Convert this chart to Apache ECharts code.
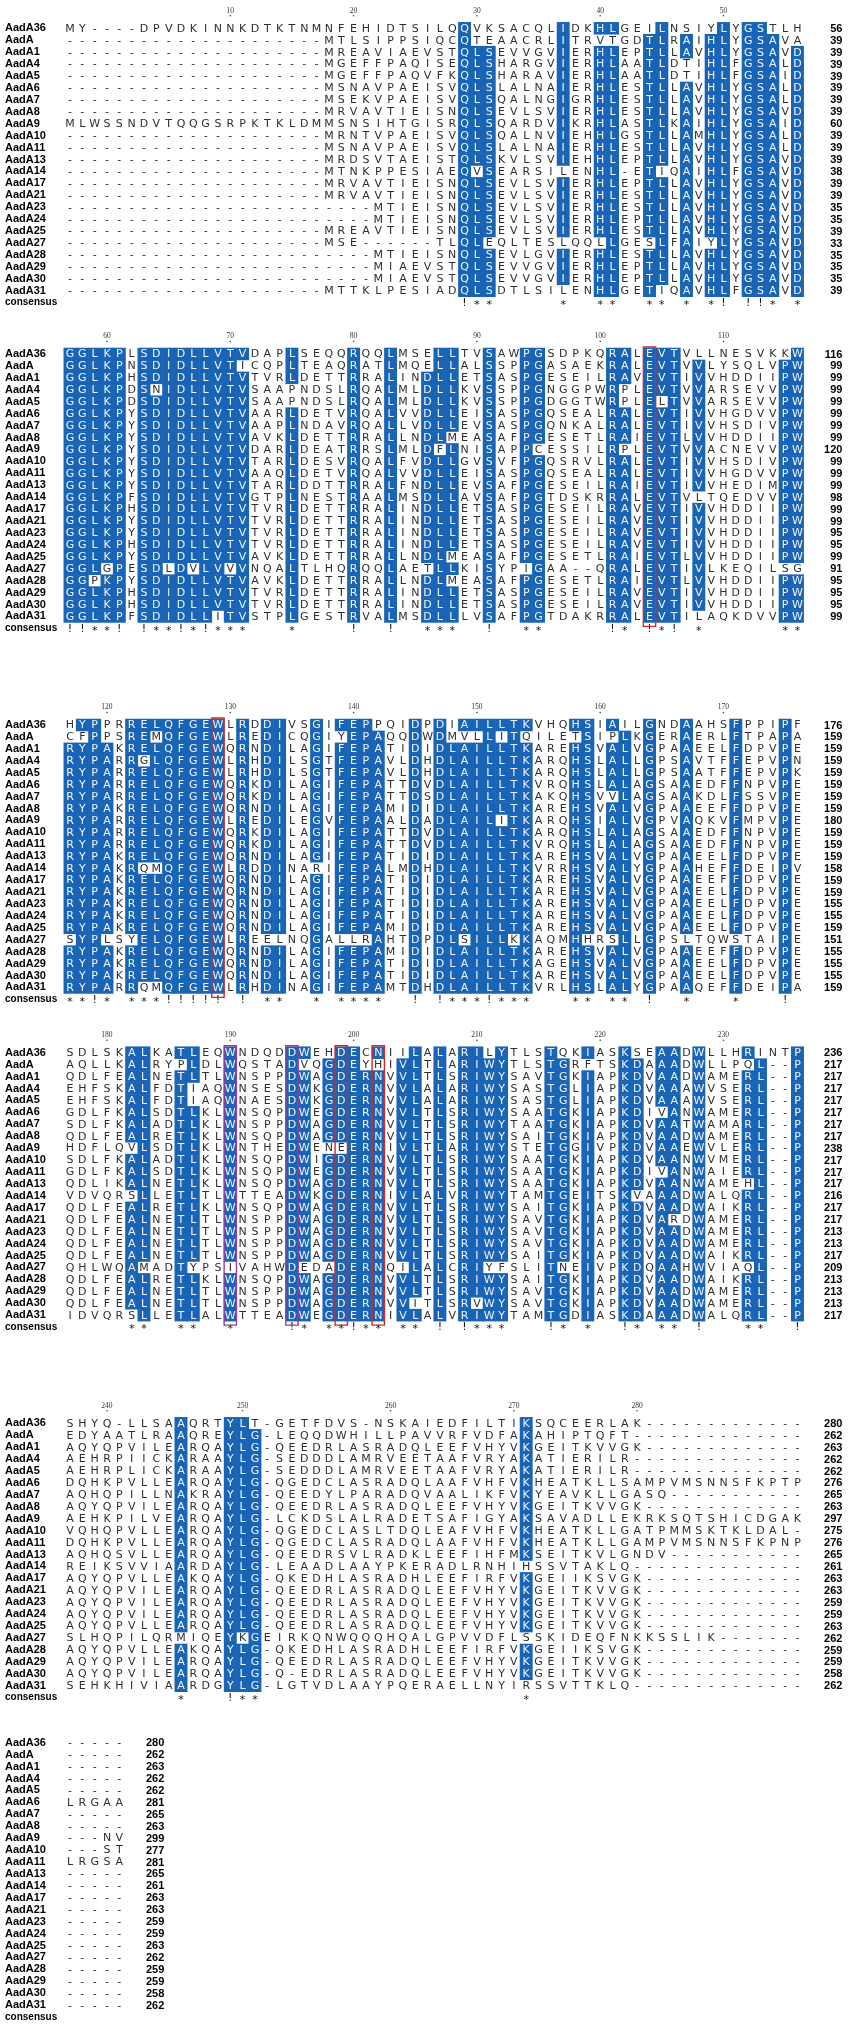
<!DOCTYPE html>
<html>
<head>
<meta charset="utf-8">
<title>AadA alignment</title>
<script src="https://cdn.jsdelivr.net/npm/echarts@6.0.0/dist/echarts.min.js"></script>
<style>
    html, body { margin: 0; padding: 0; background: #ffffff; }
    #alignment { width: 851px; height: 2027px; }
</style>
</head>
<body>
<div id="alignment"></div>
<script>
    // run of alignment gaps
    function gaps(n) {
        return new Array(n + 1).join('-');
    }

    var names = ['AadA36', 'AadA', 'AadA1', 'AadA4', 'AadA5', 'AadA6', 'AadA7', 'AadA8',
        'AadA9', 'AadA10', 'AadA11', 'AadA13', 'AadA14', 'AadA17', 'AadA21', 'AadA23',
        'AadA24', 'AadA25', 'AadA27', 'AadA28', 'AadA29', 'AadA30', 'AadA31'];

    // alignment columns 1-60
    var block1 = [
        'MY----DPVDKINNKDTKTNMNFEHIDTS' + 'ILQQVKSACQLIDKHLGEILNSIYLYGSTLH',
        gaps(21) + 'MTLSIPPS' + 'IQCQTEAACRLITRVTGDTLRAIHLYGSAVA',
        gaps(21) + 'MREAVIAE' + 'VSTQLSEVVGVIERHLEPTLLAVHLYGSAVD',
        gaps(21) + 'MGEFFPAQ' + 'ISEQLSHARGVIERHLAATLDTIHLFGSALD',
        gaps(21) + 'MGEFFPAQ' + 'VFKQLSHARAVIERHLAATLDTIHLFGSAID',
        gaps(21) + 'MSNAVPAE' + 'ISVQLSLALNAIERHLESTLLAVHLYGSALD',
        gaps(21) + 'MSEKVPAE' + 'ISVQLSQALNGIGRHLESTLLAVHLYGSALD',
        gaps(21) + 'MRVAVTIE' + 'ISNQLSEVLSVIERHLESTLLAVHLYGSAVD',
        'MLWSSNDVTQQGSRPKTKLDMMSNSIHTG' + 'ISRQLSQARDVIKRHLASTLKAIHLYGSAID',
        gaps(21) + 'MRNTVPAE' + 'ISVQLSQALNVIEHHLGSTLLAMHLYGSALD',
        gaps(21) + 'MSNAVPAE' + 'ISVQLSLALNAIERHLESTLLAVHLYGSALD',
        gaps(21) + 'MRDSVTAE' + 'ISTQLSKVLSVIEHHLEPTLLAVHLYGSAVD',
        gaps(21) + 'MTNKPPES' + 'IAEQVSEARSILENHL-ETIQAIHLFGSAVD',
        gaps(21) + 'MRVAVTIE' + 'ISNQLSEVLSVIERHLEPTLLAVHLYGSAVD',
        gaps(21) + 'MRVAVTIE' + 'ISNQLSEVLSVIERHLESTLLAVHLYGSAVD',
        gaps(25) + 'MTIE' + 'ISNQLSEVLSVIERHLESTLLAVHLYGSAVD',
        gaps(25) + 'MTIE' + 'ISNQLSEVLSVIERHLEPTLLAVHLYGSAVD',
        gaps(21) + 'MREAVTIE' + 'ISNQLSEVLSVIERHLESTLLAVHLYGSAVD',
        gaps(21) + 'MSE' + gaps(6) + 'TLQLEQLTESLQQLLGESLFAIYLYGSAVD',
        gaps(25) + 'MTIE' + 'ISNQLSEVLGVIERHLESTLLAVHLYGSAVD',
        gaps(25) + 'MIAE' + 'VSTQLSEVVGVIERHLEPTLLAVHLYGSAVD',
        gaps(25) + 'MIAE' + 'VSTQLSEVVGVIERHLEPTLLAVHLYGSAVD',
        gaps(21) + 'MTTKLPES' + 'IADQLSDTLSILENHLGETIQAVHLFGSAVD'
    ];

    // alignment columns 61-120
    var block2 = [
        'GGLKPLSDIDLLVTVDAPLSEQQRQQLMSE' + 'LLTVSAWPGSDPKQRALEVTVLLNESVKKW',
        'GGLKPNSDIDLLVTICQPLTEAQRATLMQE' + 'LLALSSPPGASAEKRALEVTVVLYSQLVPW',
        'GGLKPHSDIDLLVTVTVRLDETTRRALIND' + 'LLETSASPGESEILRAVEVTIVVHDDIIPW',
        'GGLKPDSNIDLLVTVSAAPNDSLRQALMLD' + 'LLKVSSPPGNGGPWRPLEVTVVARSEVVPW',
        'GGLKPDSDIDLLVTVSAAPNDSLRQALMLD' + 'LLKVSSPPGDGGTWRPLELTVVARSEVVPW',
        'GGLKPYSDIDLLVTVAARLDETVRQALVVD' + 'LLEISASPGQSEALRALEVTIVVHGDVVPW',
        'GGLKPYSDIDLLVTVAAPLNDAVRQALLVD' + 'LLEVSASPGQNKALRALEVTIVVHSDIVPW',
        'GGLKPYSDIDLLVTVAVKLDETTRRALLND' + 'LMEASAFPGESETLRAIEVTLVVHDDIIPW',
        'GGLKPYSDIDLLVTVDARLDEATRRSLMLD' + 'FLNISAPPCESSILRPLEVTVVACNEVVPW',
        'GGLKPYSDIDLLVTVTARLDESVRQALFVD' + 'LLGVSVFPGQSRVLRALEVTIVVHSDIVPW',
        'GGLKPYSDIDLLVTVAAQLDETVRQALVVD' + 'LLEISASPGQSEALRALEVTIVVHGDVVPW',
        'GGLKPYSDIDLLVTVTARLDDTTRRALFND' + 'LLEVSAFPGESEILRAIEVTIVVHEDIMPW',
        'GGLKPFSDIDLLVTVGTPLNESTRAALMSD' + 'LLAVSAFPGTDSKRRALEVTVLTQEDVVPW',
        'GGLKPHSDIDLLVTVTVRLDETTRRALIND' + 'LLETSASPGESEILRAVEVTIVVHDDIIPW',
        'GGLKPYSDIDLLVTVTVRLDETTRRALIND' + 'LLETSASPGESEILRAVEVTIVVHDDIIPW',
        'GGLKPYSDIDLLVTVTVRLDETTRRALIND' + 'LLETSASPGESEILRAVEVTIVVHDDIIPW',
        'GGLKPHSDIDLLVTVTVRLDETTRRALIND' + 'LLETSASPGESEILRAVEVTIVVHDDIIPW',
        'GGLKPYSDIDLLVTVAVKLDETTRRALLND' + 'LMEASAFPGESETLRAIEVTLVVHDDIIPW',
        'GGLGPESDLDVLVVVNQALTLHQRQQLAET' + 'LLKISYPIGAA--QRALEVTIVLKEQILSG',
        'GGPKPYSDIDLLVTVAVKLDETTRRALLND' + 'LMEASAFPGESETLRAIEVTLVVHDDIIPW',
        'GGLKPHSDIDLLVTVTVRLDETTRRALIND' + 'LLETSASPGESEILRAVEVTIVVHDDIIPW',
        'GGLKPHSDIDLLVTVTVRLDETTRRALIND' + 'LLETSASPGESEILRAVEVTIVVHDDIIPW',
        'GGLKPFSDIDLLITVSTPLGESTRVALMSD' + 'LLLVSAFPGTDAKRRALEVTILAQKDVVPW'
    ];

    // alignment columns 121-180
    var block3 = [
        'HYPPRRELQFGEWLRDDIVSGIFEPPQIDP' + 'DIAILLTKVHQHSIAILGNDAAHSFPPIPF',
        'CFPPSREMQFGEWLREDICQGIYEPAQQDW' + 'DMVLLITQILETSIPLKGERAERLFTPAPA',
        'RYPAKRELQFGEWQRNDILAGIFEPATIDI' + 'DLAILLTKAREHSVALVGPAAEELFDPVPE',
        'RYPARRGLQFGEWLRHDILSGTFEPAVLDH' + 'DLAILLTKARQHSLALLGPSAVTFFEPVPN',
        'RYPARRELQFGEWLRHDILSGTFEPAVLDH' + 'DLAILLTKARQHSLALLGPSAATFFEPVPK',
        'RYPARRELQFGEWQRKDILAGIFEPATTDV' + 'DLAILLTKVRQHSLALAGSAAEDFFNPVPE',
        'RYPARRELQFGEWQRKDILAGIFEPATTDS' + 'DLAILLTKAKQHSVVLAGSAAKDLFSSVPE',
        'RYPAKRELQFGEWQRNDILAGIFEPAMIDI' + 'DLAILLTKAREHSVALVGPAAEEFFDPVPE',
        'RYPARRELQFGEWLREDILEGVFEPAALDA' + 'DLAILITKARQHSIALVGPVAQKVFMPVPE',
        'RYPARRELQFGEWQRKDILAGIFEPATTDV' + 'DLAILLTKARQHSLALAGSAAEDFFNPVPE',
        'RYPARRELQFGEWQRKDILAGIFEPATTDV' + 'DLAILLTKVRQHSLALAGSAAEDFFNPVPE',
        'RYPAKRELQFGEWQRNDILAGIFEPATIDI' + 'DLAILLTKAREHSVALVGPAAEELFDPVPE',
        'RYPAKRQMQFGEWLRDDINARIFEPALMDH' + 'DLAILLTKVRRHSVALYGPAAHEFFDEIPV',
        'RYPAKRELQFGEWQRNDILAGIFEPATIDI' + 'DLAILLTKAREHSVALVGPAAEEFFDPVPE',
        'RYPAKRELQFGEWQRNDILAGIFEPATIDI' + 'DLAILLTKAREHSVALVGPAAEELFDPVPE',
        'RYPAKRELQFGEWQRNDILAGIFEPATIDI' + 'DLAILLTKAREHSVALVGPAAEELFDPVPE',
        'RYPAKRELQFGEWQRNDILAGIFEPATIDI' + 'DLAILLTKAREHSVALVGPAAEELFDPVPE',
        'RYPAKRELQFGEWQRNDILAGIFEPAMIDI' + 'DLAILLTKAREHSVALVGPAAEELFDPVPE',
        'SYPLSYELQFGEWLREELNQGALLRAHTDP' + 'DLSILLKKAQMHHRSLLGPSLTQWSTAIPE',
        'RYPAKRELQFGEWQRNDILAGIFEPAMIDI' + 'DLAILLTKAREHSVALVGPAAEEFFDPVPE',
        'RYPAKRELQFGEWQRNDILAGIFEPATIDI' + 'DLAILLTKAGEHSVALVGPAAEELFDPVPE',
        'RYPAKRELQFGEWQRNDILAGIFEPATIDI' + 'DLAILLTKAREHSVALVGPAAEELFDPVPE',
        'RYPARRQMQFGEWLRHDINAGIFEPAMTDH' + 'DLAILLTKVRLHSLALYGPAAQEFFDEIPA'
    ];

    // alignment columns 181-240
    var block4 = [
        'SDLSKALKATLEQWNDQDDWEHDECNIILA' + 'LARILYTLSTQKIASKSEAADWLLHRINTP',
        'AQLLKALRYPLDLWQSTADVQGDEYHIVLT' + 'LARIWYTLSTGRFTSKDAAADWLLPQL--P',
        'QDLFEALNETLTLWNSPPDWAGDERNVVLT' + 'LSRIWYSAVTGKIAPKDVAADWAMERL--P',
        'EHFSKALFDTIAQWNSESDWKGDERNVVLA' + 'LARIWYSASTGLIAPKDVAAAWVSERL--P',
        'EHFSKALFDTIAQWNAESDWKGDERNVVLA' + 'LARIWYSASTGLIAPKDVAAAWVSERL--P',
        'GDLFKALSDTLKLWNSQPDWEGDERNVVLT' + 'LSRIWYSAATGKIAPKDIVANWAMERL--P',
        'SDLFKALADTLKLWNSPPDWAGDERNVVLT' + 'LSRIWYTAATGKIAPKDVAATWAMARL--P',
        'QDLFEALRETLKLWNSQPDWAGDERNVVLT' + 'LSRIWYSAITGKIAPKDVAADWAMERL--P',
        'HDFLQVLSDTLKLWNTHEDWENEERNIVLT' + 'LARIWYSTETGGIVPKDVAAEWVLERL--P',
        'SDLFKALADTLKLWNSQPDWIGDERNVVLT' + 'LSRIWYSAATGKIAPKDVAANWVMERL--P',
        'GDLFKALSDTLKLWNSQPDWEGDERNVVLT' + 'LSRIWYSAATGKIAPKDIVANWAIERL--P',
        'QDLIKALNETLKLWNSQPDWAGDERNVVLT' + 'LSRIWYSAATGKIAPKDVAANWAMEHL--P',
        'VDVQRSLLETLTLWTTEADWKGDERNIVLA' + 'LVRIWYTAMTGEITSKVAAADWALQRL--P',
        'QDLFEALRETLKLWNSQPDWAGDERNVVLT' + 'LSRIWYSAITGKIAPKDVAADWAIKRL--P',
        'QDLFEALNETLTLWNSPPDWAGDERNVVLT' + 'LSRIWYSAVTGKIAPKDVARDWAMERL--P',
        'QDLFEALNETLTLWNSPPDWAGDERNVVLT' + 'LSRIWYSAVTGKIAPKDVAADWAMERL--P',
        'QDLFEALNETLTLWNSPPDWAGDERNVVLT' + 'LSRIWYSAVTGKIAPKDVAADWAMERL--P',
        'QDLFEALNETLTLWNSPPDWAGDERNVVLT' + 'LSRIWYSAITGKIAPKDVAADWAIKRL--P',
        'QHLWQAMADTYPSIVAHWDEDADERNQILA' + 'LCRIYFSLITNEIVPKDQAAHWVIAQL--P',
        'QDLFEALRETLKLWNSQPDWAGDERNVVLT' + 'LSRIWYSAITGKIAPKDVAADWAIKRL--P',
        'QDLFEALNETLTLWNSPPDWAGDERNVVLT' + 'LSRIWYSAVTGKIAPKDVAADWAMERL--P',
        'QDLFEALNETLTLWNSPPDWAGDERNVVIT' + 'LSRVWYSAVTGKIAPKDVAADWAMERL--P',
        'IDVQRSLLETLALWTTEADWEGDERNIVLA' + 'LVRIWYTAMTGDIASKDAAADWALQRL--P'
    ];

    // alignment columns 241-300
    var block5 = [
        'SHYQ-LLSAAQRTYLT-GETFDVS-NSKAI' + 'EDFILTIKSQCEERLAK' + gaps(13),
        'EDYAATLRAAQREYLG-LEQQDWHILLPAV' + 'VRFVDFAKAHIPTQFT' + gaps(14),
        'AQYQPVILEARQAYLG-QEEDRLASRADQL' + 'EEFVHYVKGEITKVVGK' + gaps(13),
        'AEHRPIICKARAAYLG-SEDDDLAMRVEET' + 'AAFVRYAKATIERILR' + gaps(14),
        'AEHRPLICKARAAYLG-SEDDDLAMRVEET' + 'AAFVRYAKATIERILR' + gaps(14),
        'DQHKPVLLEARQAYLG-QGEDCLASRADQL' + 'AAFVHFVKHEATKLLSAMPVMSNNSFKPTP',
        'AQHQPILLNAKRAYLG-QEEDYLPARADQV' + 'AALIKFVKYEAVKLLGASQ' + gaps(11),
        'AQYQPVILEARQAYLG-QEEDRLASRADQL' + 'EEFVHYVKGEITKVVGK' + gaps(13),
        'AEHKPILVEARQAYLG-LCKDSLALRADET' + 'SAFIGYAKSAVADLLEKRKSQTSHICDGAK',
        'VQHQPVLLEARQAYLG-QGEDCLASLTDQL' + 'EAFVHFVKHEATKLLGATPMMSKTKLDAL-',
        'DQHKPVLLEARQAYLG-QGEDCLASRADQL' + 'AAFVHFVKHEATKLLGAMPVMSNNSFKPNP',
        'AQHQSVLLEARQAYLG-QEEDRSVLRADKL' + 'EEFIHFMKSEITKVLGNDV' + gaps(11),
        'REIKSVVIAARDAYLG-LEAADLAAYPKER' + 'ADLRNHIHSSVTAKLQ' + gaps(14),
        'AQYQPVLLEAKQAYLG-QKEDHLASRADHL' + 'EEFIRFVKGEIIKSVGK' + gaps(13),
        'AQYQPVILEARQAYLG-QEEDRLASRADQL' + 'EEFVHYVKGEITKVVGK' + gaps(13),
        'AQYQPVILEARQAYLG-QEEDRLASRADQL' + 'EEFVHYVKGEITKVVGK' + gaps(13),
        'AQYQPVILEARQAYLG-QEEDRLASRADQL' + 'EEFVHYVKGEITKVVGK' + gaps(13),
        'AQYQPVLLEARQAYLG-QEEDRLASRADQL' + 'EEFVHYVKGEITKVVGK' + gaps(13),
        'SLHQPILQRMIQEYKGEIRKQNWQQQHQAL' + 'GPVVDFLSSKIDEQFNKKSSLIK' + gaps(7),
        'AQYQPVLLEAKQAYLG-QKEDHLASRADHL' + 'EEFIRFVKGEIIKSVGK' + gaps(13),
        'AQYQPVILEARQAYLG-QEEDRLASRADQL' + 'EEFVHYVKGEITKVVGK' + gaps(13),
        'AQYQPVILEARQAYLG-Q-EDRLASRADQL' + 'EEFVHYVKGEITKVVGK' + gaps(13),
        'SEHKHIVIAARDGYLG-LGTVDLAAYPQER' + 'AELLNYIRSSVTTKLQ' + gaps(14)
    ];

    // alignment columns 301-305
    var block6 = ['-----', '-----', '-----', '-----', '-----', 'LRGAA', '-----', '-----',
        '---NV', '---ST', 'LRGSA', '-----', '-----', '-----', '-----', '-----',
        '-----', '-----', '-----', '-----', '-----', '-----', '-----'];

    var redBoxCols = [108, 133, 203, 206];
    var purpleBoxCols = [194, 199];
    var shadeMin = 20;

    var SHADE = '#1a64b6';
    var TEXT = '#2e2e2e';
    var ROW_Y = [28.3, 354, 725, 1052.7, 1423.3, 1742.7];
    var COL_W = 12.33;
    var ROW_H = 11.93;
    var FIRST_X = 70;

    var blocks = [block1, block2, block3, block4, block5, block6];

    var alignment = names.map(function (n, i) {
        return blocks.map(function (b) { return b[i]; }).join('');
    });

    // most frequent residue per column
    var topRes = [];
    var topCount = [];
    for (var c = 0; c < alignment[0].length; c++) {
        var counts = {};
        var best = '';
        var bestN = 0;
        for (var s = 0; s < alignment.length; s++) {
            var ch = alignment[s].charAt(c);
            if (ch === '-') continue;
            counts[ch] = (counts[ch] || 0) + 1;
            if (counts[ch] > bestN) { bestN = counts[ch]; best = ch; }
        }
        topRes.push(best);
        topCount.push(bestN);
    }

    var grids = [], xAxes = [], yAxes = [], series = [];
    var colCats = [];
    for (var k = 0; k < 60; k++) colCats.push(k);
    var rowCats = names.concat(['consensus']);

    var start = 0;
    var residueCount = names.map(function () { return 0; });
    var refCount = 0;

    blocks.forEach(function (block, b) {
        var ncol = block[0].length;

        grids.push({
            left: FIRST_X - COL_W / 2,
            width: COL_W * 60,
            top: ROW_Y[b] - ROW_H / 2,
            height: ROW_H * 24
        });
        xAxes.push({ type: 'category', gridIndex: b, data: colCats, show: false });
        yAxes.push({
            type: 'category',
            gridIndex: b,
            data: rowCats,
            inverse: true,
            axisLine: { show: false },
            axisTick: { show: false },
            splitLine: { show: false },
            axisLabel: {
                interval: 0,
                align: 'left',
                margin: FIRST_X - COL_W / 2 - 5,
                color: '#000',
                fontFamily: 'Liberation Sans',
                fontWeight: 'bold',
                fontSize: 11,
                formatter: function (v) {
                    return v === 'consensus' ? '{c|consensus}' : v;
                },
                rich: { c: { fontSize: 10, fontWeight: 'bold', fontFamily: 'Liberation Sans', color: '#000' } }
            }
        });

        var cells = [];
        var ruler = [];
        var boxes = [];
        for (var i = 0; i < ncol; i++) {
            var col = start + i;
            for (var r = 0; r < names.length; r++) {
                var res = block[r].charAt(i);
                var on = res !== '-' && res === topRes[col] && topCount[col] >= shadeMin;
                cells.push({ c: i, r: r, ch: res, on: on, sym: false });
            }
            var sym = topCount[col] === names.length ? '!' : (topCount[col] >= shadeMin ? '*' : '');
            if (sym) cells.push({ c: i, r: names.length, ch: sym, on: false, sym: true });

            if (block[0].charAt(i) !== '-') {
                refCount++;
                if (refCount % 10 === 0) ruler.push({ c: i, label: String(refCount) });
            }
            if (redBoxCols.indexOf(col + 1) >= 0) boxes.push({ c: i, color: '#d42a2a' });
            if (purpleBoxCols.indexOf(col + 1) >= 0) boxes.push({ c: i, color: '#9a3d9c' });
        }

        var ends = block.map(function (row, r) {
            for (var j = 0; j < row.length; j++) if (row.charAt(j) !== '-') residueCount[r]++;
            return { c: ncol - 1, r: r, n: residueCount[r] };
        });

        series.push({
            type: 'custom',
            xAxisIndex: b,
            yAxisIndex: b,
            silent: true,
            data: cells.map(function (d) { return [d.c, d.r]; }),
            renderItem: function (params, api) {
                var d = cells[params.dataIndex];
                var p = api.coord([d.c, d.r]);
                var sz = api.size([1, 1]);
                var kids = [];
                if (d.on) {
                    kids.push({
                        type: 'rect',
                        shape: { x: p[0] - sz[0] / 2 - 0.3, y: p[1] - sz[1] / 2 - 0.3, width: sz[0] + 0.6, height: sz[1] + 0.6 },
                        style: { fill: SHADE }
                    });
                }
                kids.push({
                    type: 'text',
                    x: p[0],
                    y: p[1] + (d.sym && d.ch === '*' ? 2.5 : 0.5),
                    style: {
                        text: d.ch,
                        fill: d.on ? '#eef4fc' : (d.sym ? '#111' : TEXT),
                        fontFamily: 'DejaVu Sans',
                        fontSize: 11,
                        align: 'center',
                        verticalAlign: 'middle'
                    }
                });
                return { type: 'group', children: kids };
            }
        });

        series.push({
            type: 'custom',
            xAxisIndex: b,
            yAxisIndex: b,
            silent: true,
            z: 5,
            data: boxes.map(function (d) { return [d.c, 0]; }),
            renderItem: function (params, api) {
                var d = boxes[params.dataIndex];
                var p = api.coord([d.c, 0]);
                var sz = api.size([1, 1]);
                return {
                    type: 'rect',
                    shape: { x: p[0] - sz[0] / 2, y: p[1] - 7, width: sz[0], height: sz[1] * 23 + 5 },
                    style: { fill: 'none', stroke: d.color, lineWidth: 1.4 }
                };
            }
        });

        series.push({
            type: 'custom',
            xAxisIndex: b,
            yAxisIndex: b,
            silent: true,
            data: ruler.map(function (d) { return [d.c, 0]; }),
            renderItem: function (params, api) {
                var d = ruler[params.dataIndex];
                var p = api.coord([d.c, 0]);
                return {
                    type: 'group',
                    children: [
                        {
                            type: 'text',
                            x: p[0],
                            y: p[1] - 17.5,
                            style: {
                                text: d.label, fill: '#333', fontFamily: 'Liberation Serif', fontSize: 7.5,
                                align: 'center', verticalAlign: 'middle'
                            }
                        },
                        { type: 'circle', shape: { cx: p[0], cy: p[1] - 12.5, r: 0.8 }, style: { fill: '#444' } }
                    ]
                };
            }
        });

        series.push({
            type: 'custom',
            xAxisIndex: b,
            yAxisIndex: b,
            silent: true,
            data: ends.map(function (d) { return [d.c, d.r]; }),
            renderItem: function (params, api) {
                var d = ends[params.dataIndex];
                var p = api.coord([d.c, d.r]);
                var sz = api.size([1, 1]);
                return {
                    type: 'text',
                    x: p[0] + sz[0] * 3.65,
                    y: p[1] + 0.5,
                    style: {
                        text: String(d.n), fill: '#000', fontFamily: 'Liberation Sans', fontWeight: 'bold',
                        fontSize: 11, align: 'right', verticalAlign: 'middle'
                    }
                };
            }
        });

        start += ncol;
    });

    var chart = echarts.init(document.getElementById('alignment'), null, { renderer: 'canvas' });
    chart.setOption({
        backgroundColor: '#ffffff',
        animation: false,
        grid: grids,
        xAxis: xAxes,
        yAxis: yAxes,
        series: series
    });
</script>
</body>
</html>
